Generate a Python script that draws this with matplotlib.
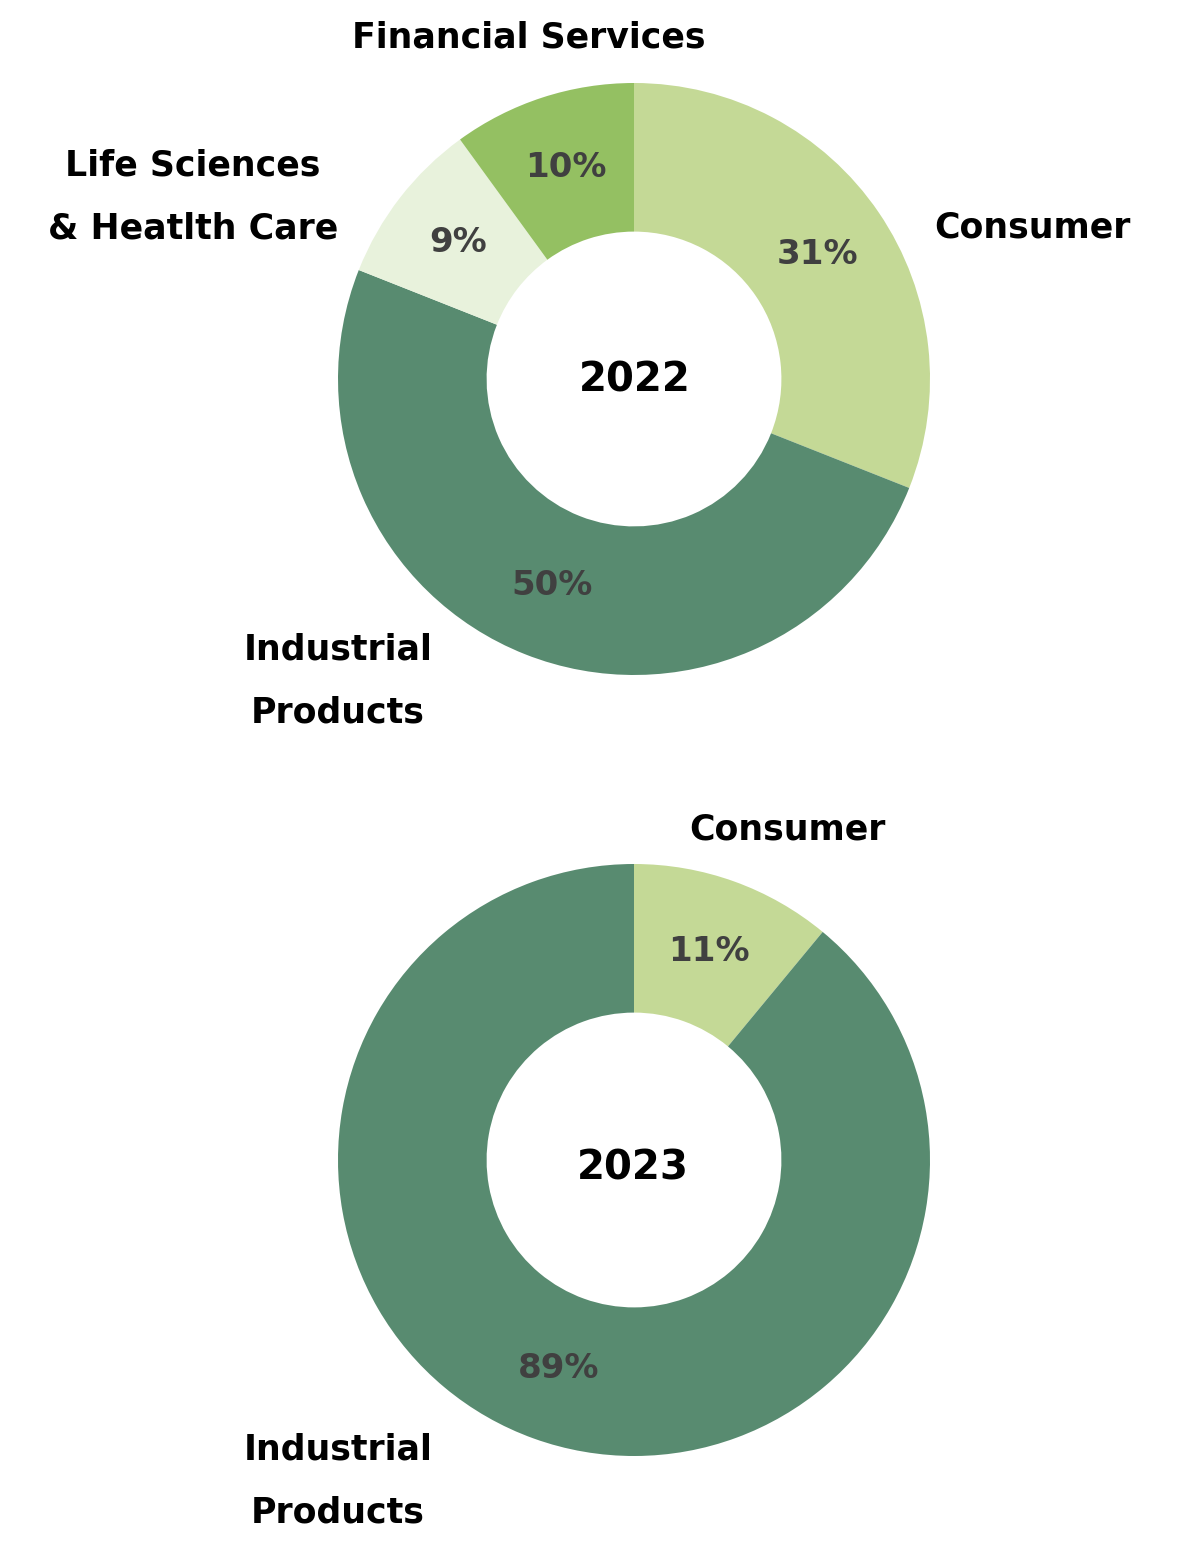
import matplotlib
matplotlib.use("Agg")
import matplotlib.pyplot as plt

# ---- data ----
years = ["2022", "2023"]
labels_2022 = ["Consumer", "Industrial\nProducts", "Life Sciences\n& Heatlth Care", "Financial Services"]
values_2022 = [31, 50, 9, 10]
labels_2023 = ["Consumer", "Industrial\nProducts"]
values_2023 = [11, 89]

colors_2022 = ["#c4d996", "#588b70", "#e8f2dc", "#94c062"]
colors_2023 = ["#c4d996", "#588b70"]

W, H = 1204, 1542
FONT = ["DejaVu Sans"]

fig = plt.figure(figsize=(W / 100, H / 100), dpi=100)
ax = fig.add_axes([0, 0, 1, 1])
ax.set_xlim(0, W)
ax.set_ylim(0, H)
ax.set_aspect("equal")
ax.axis("off")

R = 296
centers = [(634, H - 379), (634, H - 1160)]
year_pos = [(635, 381), (633, 1169)]
# label positions (image pixels) for outer category labels
label_pos = [
    [(1032, 228), (338, 681), (193, 197), (529, 37)],
    [(787, 829), (338, 1481)],
]

datasets = [(values_2022, labels_2022, colors_2022), (values_2023, labels_2023, colors_2023)]

for i, (vals, labs, cols) in enumerate(datasets):
    cx, cy = centers[i]
    wedges, texts, autotexts = ax.pie(
        vals, colors=cols, startangle=90, counterclock=False,
        center=(cx, cy), radius=R,
        wedgeprops=dict(width=R * 0.502, edgecolor="none"),
        autopct="%d%%", pctdistance=0.75,
        textprops=dict(fontsize=24.5, fontweight="bold", color="#404040", family=FONT),
        frame=True,
    )
    yx, yy = year_pos[i]
    ax.text(yx, H - yy, years[i], ha="center", va="center", fontsize=29,
            fontweight="bold", color="#000000", family=FONT)
    for lab, (x, y) in zip(labs, label_pos[i]):
        ax.text(x, H - y, lab, ha="center", va="center", fontsize=25,
                fontweight="bold", color="#000000", family=FONT, linespacing=2.05)

ax.set_xlim(0, W)
ax.set_ylim(0, H)
ax.axis("off")
fig.savefig("out.png", dpi=100, facecolor="white")
